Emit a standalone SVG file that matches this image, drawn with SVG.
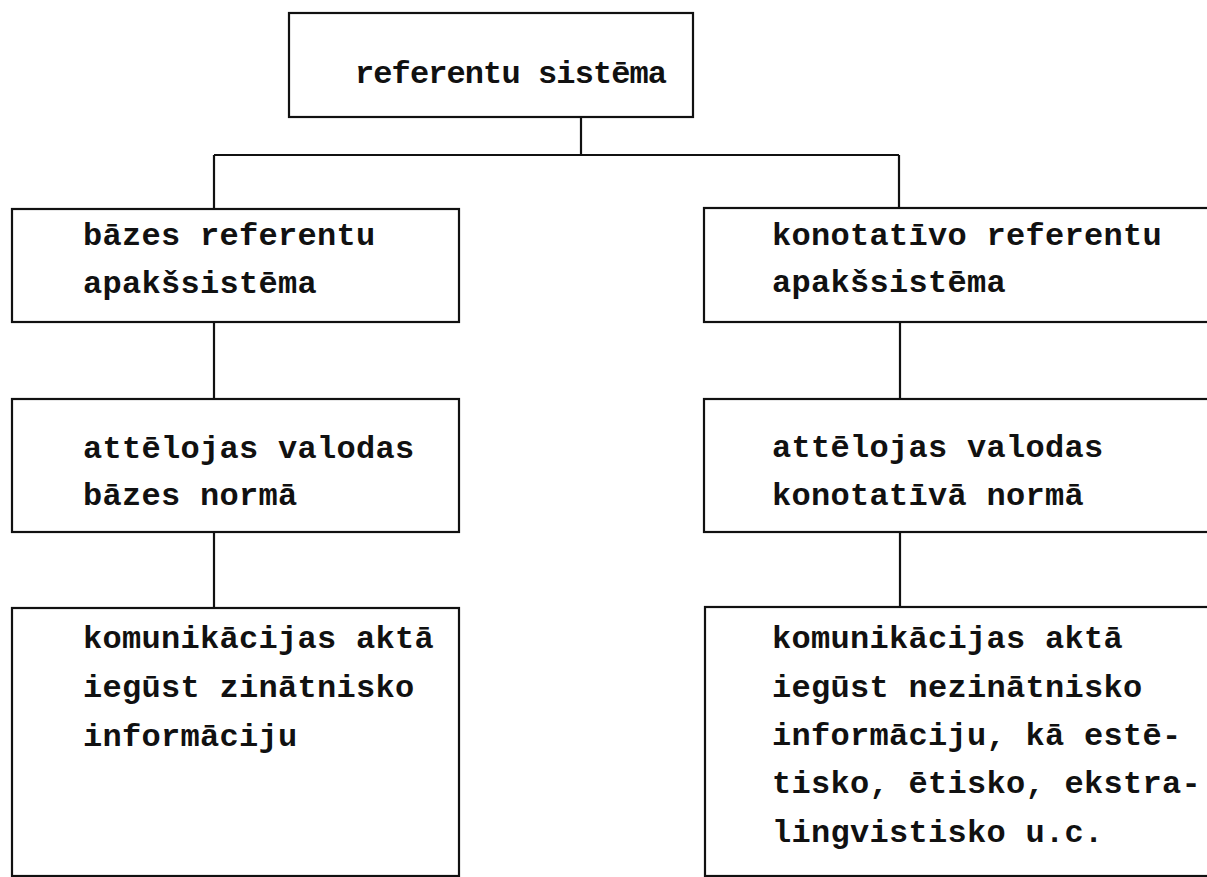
<svg xmlns="http://www.w3.org/2000/svg" width="1207" height="877" viewBox="0 0 1207 877">
<style>
.box{fill:none;stroke:#111;stroke-width:2.2}
.conn{fill:none;stroke:#111;stroke-width:2.2}
.t{font-family:"Liberation Mono","DejaVu Sans Mono",monospace;font-weight:bold;font-size:32px;fill:#111;letter-spacing:0.3px}
</style>
<rect width="1207" height="877" fill="#fff"/>
<g id="connectors">
<path class="conn" d="M581 117V155M214 155H899M214 155V209M899 155V208M214 322V399M214 532V608M900 322V399M900 532V607"/>
</g>
<g id="n-top">
<rect class="box" x="289" y="13" width="404" height="104"/>
<text class="t" x="355" y="83" style="letter-spacing:-0.9px">referentu sistēma</text>
</g>
<g id="n-left1">
<rect class="box" x="12" y="209" width="447" height="113"/>
<text class="t" x="83" y="245">bāzes referentu</text>
<text class="t" x="83" y="293">apakšsistēma</text>
</g>
<g id="n-right1">
<rect class="box" x="704" y="208" width="520" height="114"/>
<text class="t" x="772" y="245">konotatīvo referentu</text>
<text class="t" x="772" y="292">apakšsistēma</text>
</g>
<g id="n-left2">
<rect class="box" x="12" y="399" width="447" height="133"/>
<text class="t" x="83" y="458">attēlojas valodas</text>
<text class="t" x="83" y="505">bāzes normā</text>
</g>
<g id="n-right2">
<rect class="box" x="704" y="399" width="520" height="133"/>
<text class="t" x="772" y="457">attēlojas valodas</text>
<text class="t" x="772" y="505">konotatīvā normā</text>
</g>
<g id="n-left3">
<rect class="box" x="12" y="608" width="447" height="268"/>
<text class="t" x="83" y="648">komunikācijas aktā</text>
<text class="t" x="83" y="697">iegūst zinātnisko</text>
<text class="t" x="83" y="746">informāciju</text>
</g>
<g id="n-right3">
<rect class="box" x="705" y="607" width="520" height="269"/>
<text class="t" x="772" y="648">komunikācijas aktā</text>
<text class="t" x="772" y="697">iegūst nezinātnisko</text>
<text class="t" x="772" y="745">informāciju, kā estē-</text>
<text class="t" x="772" y="793">tisko, ētisko, ekstra-</text>
<text class="t" x="772" y="842">lingvistisko u.c.</text>
</g>
</svg>
